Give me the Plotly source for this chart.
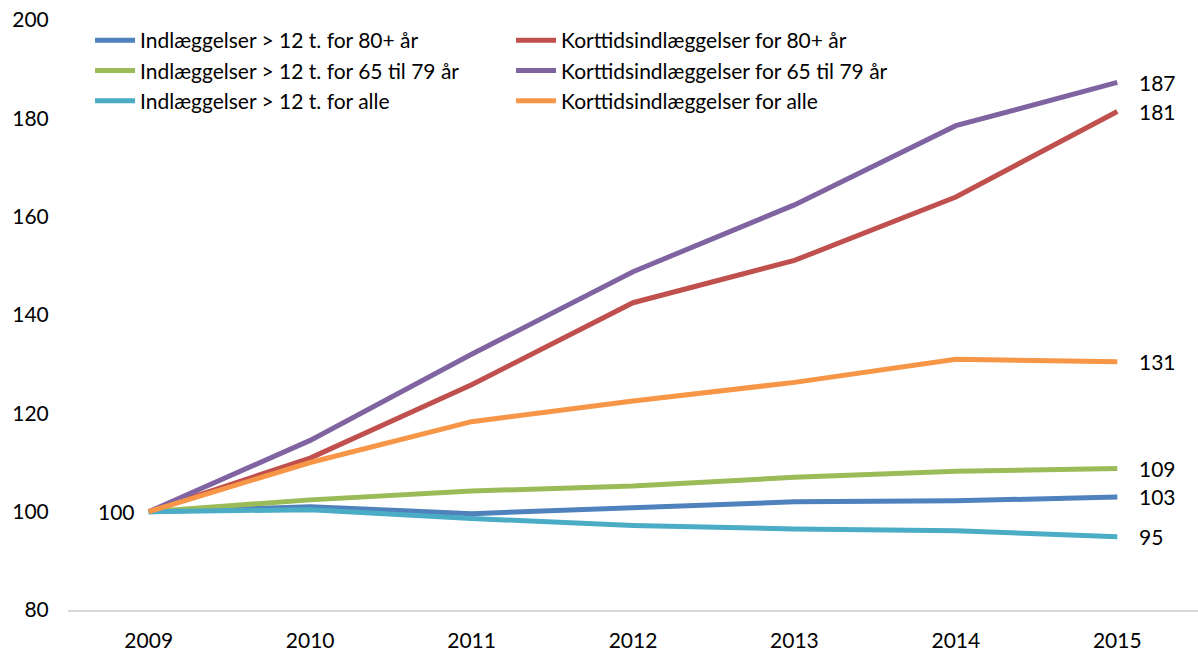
import plotly.graph_objects as go

years = ["2009", "2010", "2011", "2012", "2013", "2014", "2015"]

indl_80 = [100, 101.0, 99.6, 100.8, 102.0, 102.2, 103.0]
korttid_80 = [100, 110.9, 125.8, 142.5, 151.1, 164.0, 181.4]
indl_65_79 = [100, 102.4, 104.2, 105.2, 107.0, 108.2, 108.8]
korttid_65_79 = [100, 114.5, 132.0, 148.8, 162.4, 178.5, 187.3]
indl_alle = [100, 100.4, 98.6, 97.2, 96.5, 96.1, 94.9]
korttid_alle = [100, 110.0, 118.3, 122.5, 126.3, 131.0, 130.5]

names = [
    "Indlæggelser > 12 t. for 80+ år",
    "Korttidsindlæggelser for 80+ år",
    "Indlæggelser > 12 t. for 65 til 79 år",
    "Korttidsindlæggelser for 65 til 79 år",
    "Indlæggelser > 12 t. for alle",
    "Korttidsindlæggelser for alle",
]
series = [indl_80, korttid_80, indl_65_79, korttid_65_79, indl_alle, korttid_alle]
colors = ["#4F81BD", "#C0504D", "#9BBB59", "#8064A2", "#4BACC6", "#F79646"]
end_labels = ["103", "181", "109", "187", "95", "131"]
start_label = "100"

FONT = "Lato"
FS = 21

fig = go.Figure()
for name, vals, col in zip(names, series, colors):
    fig.add_trace(go.Scatter(
        x=years, y=vals, name=name, mode="lines",
        line=dict(color=col, width=5),
        cliponaxis=False,
    ))

last_idx = len(years) - 1
annotations = []
for vals, lab in zip(series, end_labels):
    annotations.append(dict(
        xref="x", yref="y",
        x=last_idx, y=vals[-1], text=lab, showarrow=False,
        xanchor="left", yanchor="middle", xshift=20,
        font=dict(family=FONT, size=FS, color="#000"),
    ))
annotations.append(dict(
    xref="x", yref="y",
    x=0, y=indl_80[0], text=start_label, showarrow=False,
    xanchor="right", yanchor="middle", xshift=-12,
    font=dict(family=FONT, size=FS, color="#000"),
))

fig.update_layout(
    width=1198, height=653,
    margin=dict(l=68, r=0, t=20, b=43, autoexpand=False),
    paper_bgcolor="white", plot_bgcolor="white",
    font=dict(family=FONT, size=FS, color="#000"),
    showlegend=True,
    legend=dict(
        orientation="h", x=0.0195, y=1.0, xanchor="left", yanchor="top",
        entrywidth=366, entrywidthmode="pixels",
        font=dict(family=FONT, size=FS, color="#000"),
        tracegroupgap=0, itemwidth=40,
        bgcolor="rgba(0,0,0,0)",
    ),
    xaxis=dict(
        type="category", range=[-0.5, 6.5], automargin=False,
        showgrid=False, zeroline=False,
        showline=True, linecolor="#D9D9D9", linewidth=2,
        ticks="outside", ticklen=11, tickcolor="rgba(0,0,0,0)",
        tickfont=dict(family=FONT, size=FS),
    ),
    yaxis=dict(
        range=[80, 200], dtick=20, tick0=80, automargin=False,
        showgrid=False, zeroline=False, showline=False,
        ticks="outside", ticklen=14, tickcolor="rgba(0,0,0,0)",
        tickfont=dict(family=FONT, size=FS),
    ),
    annotations=annotations,
)

fig.write_html(
    "out.html",
    config={"displayModeBar": False},
    post_script="document.body.style.margin='0';document.body.style.overflow='hidden';",
)
